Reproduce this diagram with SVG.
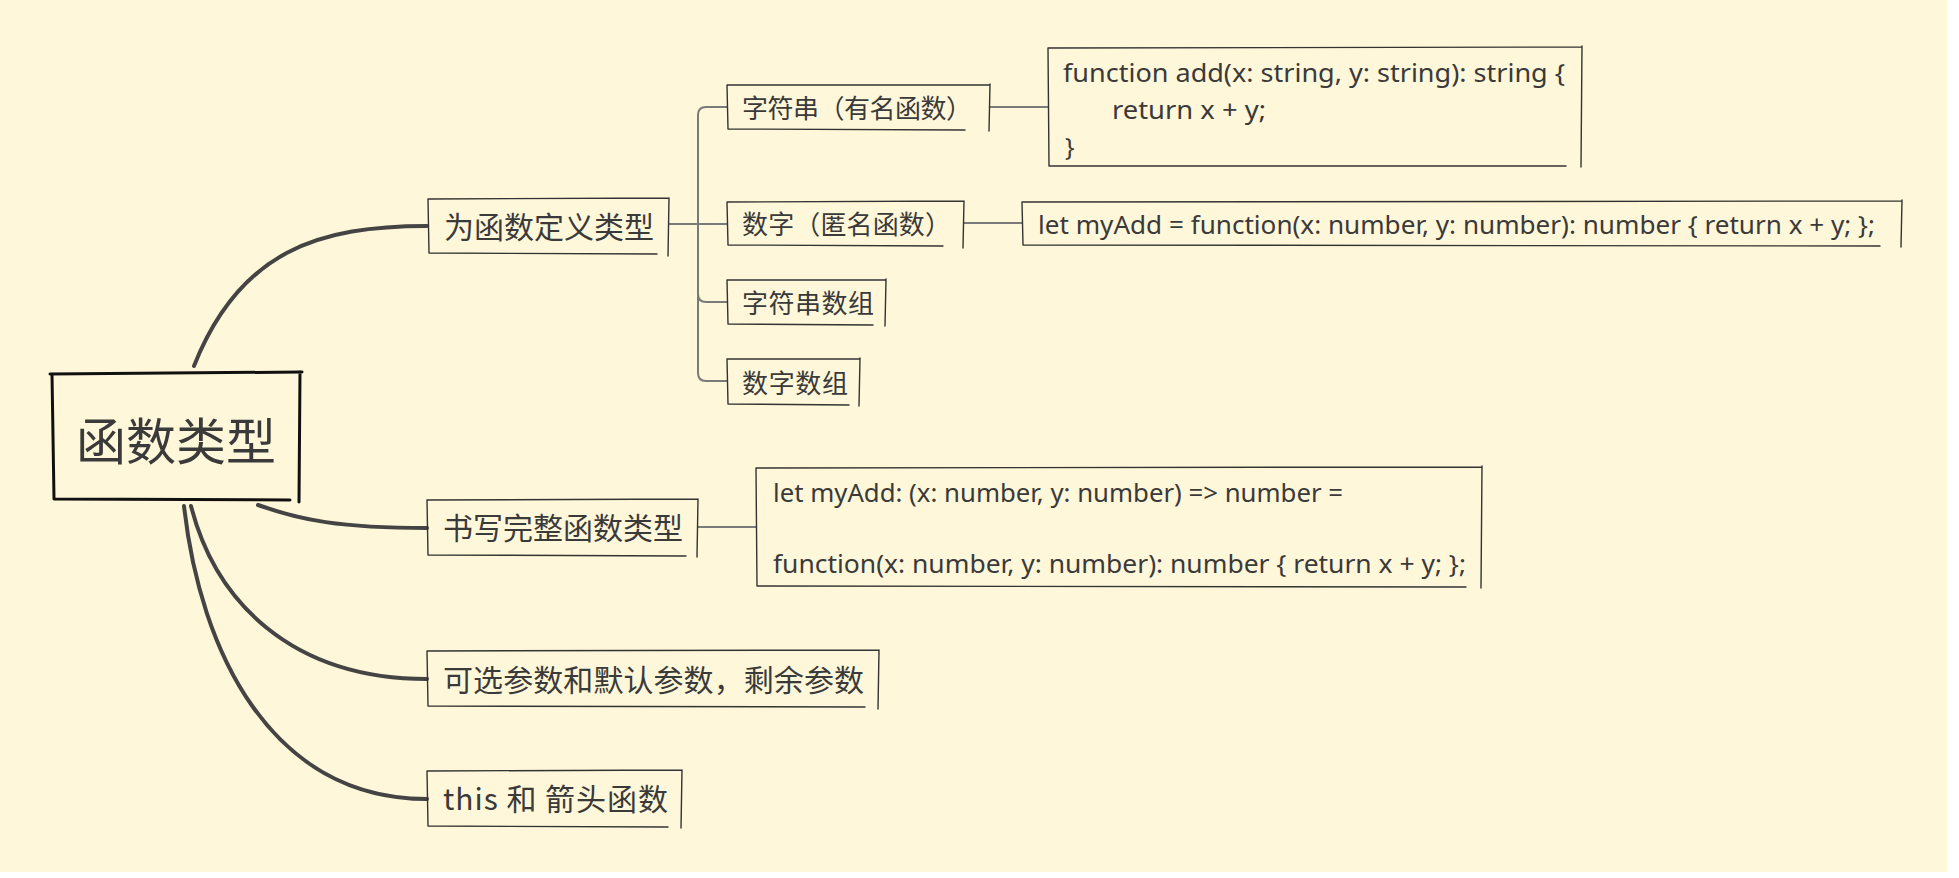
<svg xmlns="http://www.w3.org/2000/svg" width="1959" height="878" viewBox="0 0 1959 878">
<style>
.bg{fill:#fff7d9}
.cj{font-family:"Noto Sans CJK SC","Noto Sans",sans-serif;fill:#3a3a3a}
.cd{font-family:"Noto Sans","Open Sans","Noto Sans CJK SC",sans-serif;fill:#3a3a3a;font-size:25px}
.l1{font-size:30px}
.l2{font-size:26px}
.bx{fill:none;stroke:#333;stroke-width:1.4;stroke-linecap:round}
.rt{fill:none;stroke:#111;stroke-width:3;stroke-linecap:round}
.main{fill:none;stroke:#444;stroke-width:4;stroke-linecap:round}
.sub{fill:none;stroke:#7a7a7a;stroke-width:2}
</style>
<rect class="bg" x="0" y="0" width="1947" height="872"/>
<g id="connectors">
<path class="main" d="M194,366 C240,250 320,226 427,226"/>
<path class="main" d="M258,505 C300,520 340,528 427,528"/>
<path class="main" d="M191,506 C215,600 290,679 427,679"/>
<path class="main" d="M184,506 C200,650 270,799 427,799"/>
<path class="sub" d="M669,224 H727"/>
<path class="sub" d="M698,224 V115 Q698,107 706,107 H727"/>
<path class="sub" d="M698,224 V294 Q698,302 706,302 H727"/>
<path class="sub" d="M698,224 V373 Q698,381 706,381 H727"/>
<path class="sub" d="M990,107 H1048"/>
<path class="sub" d="M964,223 H1022"/>
<path class="sub" d="M698,527 H757"/>
</g>
<g id="root">
<path class="rt" d="M50,374 L302,372 M52,374 L54,499 M300,372 L299,502 M54,499 L290,500"/>
<text class="cj" x="176" y="460" font-size="50" text-anchor="middle">函数类型</text>
</g>
<g id="n-define">
<path class="bx" d="M428,199 L669,198 M669,198 L668,256 M428,199 L429,253 M429,253 L657,254"/>
<text class="cj l1" x="444" y="238" textLength="210">为函数定义类型</text>
</g>
<g id="n-str">
<path class="bx" d="M727,85 L990,85 M990,84 L989,131 M727,85 L728,129 M728,129 L965,130"/>
<text class="cj l2" x="742" y="118" textLength="230">字符串（有名函数）</text>
</g>
<g id="n-num">
<path class="bx" d="M727,202 L964,201 M964,201 L963,248 M727,202 L728,245 M728,245 L943,246"/>
<text class="cj l2" x="742" y="234" textLength="209">数字（匿名函数）</text>
</g>
<g id="n-strarr">
<path class="bx" d="M727,280 L886,280 M886,279 L885,326 M727,280 L728,324 M728,324 L873,325"/>
<text class="cj l2" x="742" y="313" textLength="132">字符串数组</text>
</g>
<g id="n-numarr">
<path class="bx" d="M727,359 L860,359 M860,358 L859,406 M727,359 L728,404 M728,404 L849,405"/>
<text class="cj l2" x="742" y="393" textLength="106">数字数组</text>
</g>
<g id="code1">
<path class="bx" d="M1048,48 L1582,47 M1582,46 L1581,167 M1048,48 L1049,166 M1049,166 L1566,166"/>
<text class="cd" x="1063" y="82" textLength="502" lengthAdjust="spacingAndGlyphs">function add(x: string, y: string): string {</text>
<text class="cd" x="1112" y="119" textLength="154" lengthAdjust="spacingAndGlyphs">return x + y;</text>
<text class="cd" x="1065" y="156">}</text>
</g>
<g id="code2">
<path class="bx" d="M1022,202 L1902,201 M1902,200 L1901,247 M1022,202 L1023,245 M1023,245 L1880,246"/>
<text class="cd" x="1038" y="234" textLength="837" lengthAdjust="spacingAndGlyphs">let myAdd = function(x: number, y: number): number { return x + y; };</text>
</g>
<g id="n-full">
<path class="bx" d="M427,500 L698,499 M698,499 L697,557 M427,500 L428,555 M428,555 L686,556"/>
<text class="cj l1" x="443" y="539" textLength="240">书写完整函数类型</text>
</g>
<g id="code3">
<path class="bx" d="M756,468 L1482,467 M1482,466 L1481,588 M756,468 L757,586 M757,586 L1466,587"/>
<text class="cd" x="773" y="502" textLength="570" lengthAdjust="spacingAndGlyphs">let myAdd: (x: number, y: number) =&gt; number =</text>
<text class="cd" x="773" y="573" textLength="693" lengthAdjust="spacingAndGlyphs">function(x: number, y: number): number { return x + y; };</text>
</g>
<g id="n-optional">
<path class="bx" d="M427,651 L879,650 M879,650 L878,709 M427,651 L428,706 M428,706 L865,707"/>
<text class="cj l1" x="443" y="691" textLength="421">可选参数和默认参数，剩余参数</text>
</g>
<g id="n-this">
<path class="bx" d="M427,771 L682,770 M682,770 L681,828 M427,771 L428,826 M428,826 L668,827"/>
<text class="cj l1" x="443" y="810" textLength="225">this 和 箭头函数</text>
</g>
</svg>
